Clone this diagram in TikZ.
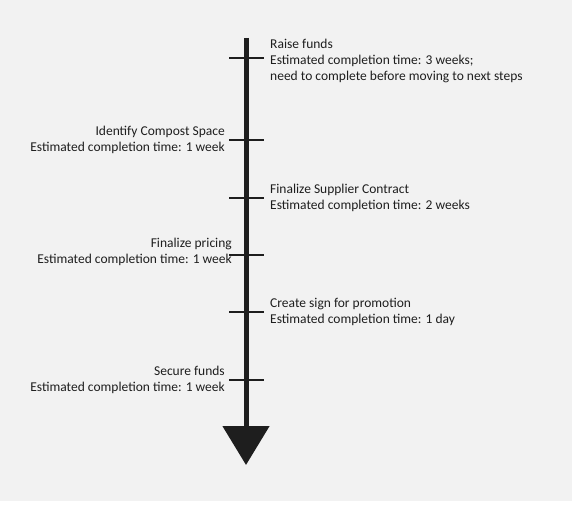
\documentclass[tikz,border=0pt]{standalone}
\usepackage{fontspec}
\setmainfont{Carlito}
\usepackage{xcolor}
\usetikzlibrary{positioning,arrows.meta}
\definecolor{paper}{RGB}{242,242,242}
\definecolor{ink}{RGB}{30,30,30}
\tikzstyle{note} = [inner sep=0pt, text=ink, font=\fontsize{13.5pt}{16pt}\selectfont]
\tikzstyle{rightnote} = [note, align=left]
\tikzstyle{leftnote} = [note, align=right]
\tikzstyle{tick} = [draw=ink, line width=1.5pt]
\tikzstyle{axis} = [draw=ink, fill=ink, line width=5pt, -{Triangle[length=39pt,width=46pt]}]

\begin{document}
\begin{tikzpicture}[x=1pt, y=-1pt, node distance=24pt]
\useasboundingbox (0,0) rectangle (572,513);
\fill[paper] (0,0) rectangle (572,501);
\coordinate (start) at (246,38);
\coordinate (end) at (246,465);
\coordinate (raise) at (246,58);
\coordinate (compost) at (246,140);
\coordinate (supplier) at (246,198);
\coordinate (pricing) at (246,255);
\coordinate (sign) at (246,312);
\coordinate (secure) at (246,380);
\draw [axis] (start) -- (end);
\foreach \c in {raise,compost,supplier,pricing,sign,secure}
  \draw [tick] ([xshift=-17pt]\c) -- ([xshift=18pt]\c);
\node (raiseText) [rightnote, right=of raise, yshift=-3pt] {Raise funds\\Estimated completion time: 3 weeks;\\need to complete before moving to next steps};
\node (compostText) [leftnote, left=21pt of compost] {Identify Compost Space\\Estimated completion time: 1 week};
\node (supplierText) [rightnote, right=of supplier] {Finalize Supplier Contract\\Estimated completion time: 2 weeks};
\node (pricingText) [leftnote, left=14pt of pricing, yshift=3pt] {Finalize pricing\\Estimated completion time: 1 week};
\node (signText) [rightnote, right=of sign] {Create sign for promotion\\Estimated completion time: 1 day};
\node (secureText) [leftnote, left=21pt of secure] {Secure funds\\Estimated completion time: 1 week};
\end{tikzpicture}
\end{document}
